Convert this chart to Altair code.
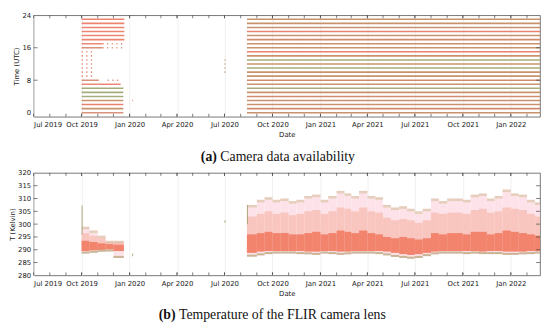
import altair as alt
import pandas as pd

# ---------------- axis ticks ----------------
major_ticks = ["2019-07-01", "2019-10-01", "2020-01-01", "2020-04-01", "2020-07-01",
               "2020-10-01", "2021-01-01", "2021-04-01", "2021-07-01", "2021-10-01",
               "2022-01-01"]
minor_ticks = [d.strftime("%Y-%m-%d") for d in pd.date_range("2019-08-01", "2022-02-01", freq="MS")]
x_start, x_end = "2019-07-01", "2022-02-26"
hour_ticks = [0, 8, 16, 24]
temp_ticks = [280, 285, 290, 295, 300, 305, 310, 315, 320]

# ---------------- (a) availability segments ----------------
seg_hour = ([0, 1, 2, 3, 4, 5, 6, 7, 8, 8, 9, 10, 11, 12, 13, 14, 15, 16, 16, 17, 17,
             18, 19, 20, 21, 22, 23, 3] +
            list(range(24)) + [10, 11, 12, 13])
seg_start = (["2019-10-01"] * 9 + ["2019-11-20"] + ["2019-10-01"] * 8 + ["2019-11-10"] +
             ["2019-10-01", "2019-11-10"] + ["2019-10-01"] * 6 + ["2020-01-06"] +
             ["2020-08-13"] * 24 + ["2020-07-01"] * 4)
seg_end = (["2019-12-20"] * 7 + ["2019-12-15", "2019-11-03", "2019-12-10"] +
           ["2019-10-22"] * 7 + ["2019-11-10", "2019-12-20", "2019-11-10", "2019-12-20"] +
           ["2019-12-22"] * 6 + ["2020-01-08"] +
           ["2022-02-26"] * 24 + ["2020-07-03"] * 4)
seg_kind = (["solid"] * 9 + ["sparse"] + ["sparse"] * 7 + ["solid", "sparse", "solid", "sparse"] +
            ["solid"] * 6 + ["solid"] + ["solid"] * 24 + ["solid"] * 4)
row_colors_2019 = ["#d9937a", "#c9936e", "#e8826e", "#c9936e", "#a3ad7c", "#a3ad7c", "#a3ad7c",
                   "#ee8874", "#d9937a", "#d9937a", "#ee8874", "#ee8874", "#ee8874", "#ee8874",
                   "#ee8874", "#ee8874", "#ee8874", "#d9937a", "#d9937a", "#ee8874", "#ee8874",
                   "#ee8470", "#ee8470", "#ee8470", "#ee8470", "#ee8470", "#ee8470", "#e8a090"]
row_colors_2020 = ["#c8926c", "#d08a6c", "#c8926c", "#c8926c", "#d08a6c", "#c8926c", "#a9ac7c",
                   "#c8926c", "#d08a6c", "#c8926c", "#c8926c", "#a9ac7c", "#c8926c", "#a9ac7c",
                   "#c8926c", "#e8806e", "#c8926c", "#c8926c", "#d08a6c", "#c8926c", "#e8806e",
                   "#c8926c", "#c8926c", "#c8926c"]
row_colors_extra = ["#c8a080"] * 4
seg_color = row_colors_2019 + row_colors_2020 + row_colors_extra

avail = pd.DataFrame({"hour": seg_hour, "start": seg_start, "end": seg_end,
                      "kind": seg_kind, "color": seg_color})

# ---------------- (b) lens temperature (semi-monthly envelopes) ----------------
bin_start = ["2019-10-01", "2019-10-16", "2019-11-01", "2019-11-16", "2019-12-01",
             "2020-08-13", "2020-09-01", "2020-09-16", "2020-10-01", "2020-10-16", "2020-11-01",
             "2020-11-16", "2020-12-01", "2020-12-16", "2021-01-01", "2021-01-16", "2021-02-01",
             "2021-02-16", "2021-03-01", "2021-03-16", "2021-04-01", "2021-04-16", "2021-05-01",
             "2021-05-16", "2021-06-01", "2021-06-16", "2021-07-01", "2021-07-16", "2021-08-01",
             "2021-08-16", "2021-09-01", "2021-09-16", "2021-10-01", "2021-10-16", "2021-11-01",
             "2021-11-16", "2021-12-01", "2021-12-16", "2022-01-01", "2022-01-16", "2022-02-01",
             "2022-02-16"]
bin_end = bin_start[1:5] + ["2019-12-21"] + bin_start[6:] + ["2022-02-26"]
t_min = [288.5, 288.8, 289.2, 289.3, 286.8,
         287.3, 287.8, 288.3, 288.5, 288.5, 288.5, 288.3, 288.2, 288.0, 288.5, 288.3, 288.0,
         288.2, 288.5, 288.5, 288.5, 288.3, 287.8, 287.2, 286.8, 286.5, 286.8, 287.5, 288.2,
         288.5, 288.5, 288.5, 288.3, 288.5, 288.3, 288.3, 288.3, 288.0, 288.0, 288.2, 288.3,
         288.5]
core_lo = [289.5, 289.8, 290.0, 290.2, 289.5,
           288.8, 289.3, 289.5, 289.5, 289.5, 289.5, 289.5, 289.3, 289.3, 289.5, 289.5, 289.3,
           289.3, 289.5, 289.5, 289.5, 289.5, 289.3, 288.8, 288.3, 288.0, 288.3, 288.8, 289.3,
           289.5, 289.5, 289.5, 289.5, 289.5, 289.3, 289.5, 289.5, 289.3, 289.3, 289.3, 289.5,
           289.5]
core_hi = [293.5, 293.0, 292.5, 292.2, 292.0,
           296.0, 296.5, 297.0, 296.5, 296.5, 296.0, 296.0, 296.5, 297.0, 296.0, 296.5, 297.5,
           297.0, 296.5, 297.5, 296.5, 296.0, 295.0, 294.5, 295.0, 294.5, 294.0, 294.5, 296.5,
           296.0, 296.5, 296.5, 296.0, 297.0, 297.0, 296.0, 296.5, 297.5, 297.0, 296.5, 296.0,
           295.5]
mid_hi = [296.5, 295.5, 294.5, 293.0, 293.0,
          303.0, 304.0, 305.0, 304.0, 304.5, 303.5, 304.0, 305.0, 305.5, 304.0, 305.0, 306.5,
          306.0, 305.0, 306.5, 305.0, 304.5, 302.5, 301.5, 302.0, 301.5, 300.5, 301.5, 304.5,
          304.0, 304.5, 304.5, 304.0, 305.5, 306.0, 304.5, 305.0, 306.5, 306.0, 305.5, 304.0,
          303.0]
t_max = [299.0, 297.5, 295.5, 293.5, 293.5,
         307.5, 309.5, 310.5, 309.5, 310.0, 309.0, 309.5, 311.0, 311.5, 309.5, 311.0, 313.0,
         312.0, 311.0, 313.0, 311.0, 310.5, 307.5, 306.5, 307.0, 306.0, 305.0, 306.0, 310.0,
         309.0, 310.0, 310.0, 309.5, 311.5, 312.0, 310.0, 311.0, 313.5, 312.0, 311.5, 309.5,
         308.5]
spike_start = ["2019-10-01", "2020-08-13", "2020-01-06", "2020-07-01"]
spike_end = ["2019-10-03", "2020-08-15", "2020-01-08", "2020-07-03"]
spike_lo = [296.0, 300.0, 287.5, 300.5]
spike_hi = [307.3, 307.5, 288.5, 301.5]

temp = pd.DataFrame({"start": bin_start, "end": bin_end, "tmin": t_min, "clo": core_lo,
                     "chi": core_hi, "mhi": mid_hi, "tmax": t_max})
temp["tmin_f"] = temp["tmin"] + 0.8
temp["tmax_f"] = temp["tmax"] - 1.0
spikes = pd.DataFrame({"start": spike_start, "end": spike_end, "lo": spike_lo, "hi": spike_hi})

# ---------------- helpers ----------------
FONT = "DejaVu Sans"
W1, H1 = 514, 103
W2, H2 = 514, 104


def ms(s):
    return int(pd.Timestamp(s, tz="UTC").timestamp() * 1000)


xscale = alt.Scale(type="utc", domain=[ms(x_start), ms(x_end)], nice=False)
XAX = alt.Axis(values=[ms(t) for t in major_ticks],
               labelExpr="utcFormat(datum.value, '%b %Y')",
               title="Date", labelPadding=4, titlePadding=3, grid=True,
               gridColor="#ececec", gridWidth=0.8, ticks=False, domain=False,
               labelOverlap=False)
yscale1 = alt.Scale(domain=[-1, 24], nice=False, zero=False)
YAX1 = alt.Axis(values=hour_ticks, title="Time (UTC)", labelPadding=3, titlePadding=2,
                ticks=False, domain=False, grid=False, labelOverlap=False)
yscale2 = alt.Scale(domain=[280, 320], nice=False, zero=False)
YAX2 = alt.Axis(values=temp_ticks, title="T (Kelvin)", labelPadding=3, titlePadding=2,
                ticks=False, domain=False, grid=False, labelOverlap=False)


def tick_layers(W, H, yfield_vals, yname, yscale, yax):
    tdf = pd.DataFrame({"d": minor_ticks + major_ticks})
    rule = dict(color="#444", strokeWidth=0.7)
    xenc = alt.X("d:T", scale=xscale, axis=XAX)
    bottom = alt.Chart(tdf).mark_rule(**rule).encode(
        x=xenc, y=alt.value(H), y2=alt.value(H - 3))
    top = alt.Chart(tdf).mark_rule(**rule).encode(
        x=xenc, y=alt.value(0), y2=alt.value(3))
    ydf = pd.DataFrame({yname: yfield_vals})
    yenc = alt.Y(f"{yname}:Q", scale=yscale, axis=yax)
    left = alt.Chart(ydf).mark_rule(**rule).encode(
        y=yenc, x=alt.value(0), x2=alt.value(4))
    right = alt.Chart(ydf).mark_rule(**rule).encode(
        y=yenc, x=alt.value(W - 4), x2=alt.value(W))
    return [bottom, top, left, right]


def caption(H, y_off, label, text, split_x):
    a = alt.Chart(pd.DataFrame({"t": [label]})).mark_text(
        font="Liberation Serif", fontSize=14, fontWeight="bold", align="right",
        baseline="middle", color="#111").encode(
        text="t:N", x=alt.value(split_x), y=alt.value(H + y_off))
    b = alt.Chart(pd.DataFrame({"t": [text]})).mark_text(
        font="Liberation Serif", fontSize=14, align="left", baseline="middle",
        color="#111").encode(
        text="t:N", x=alt.value(split_x + 3.5), y=alt.value(H + y_off))
    return [a, b]


# ---------------- panel (a) ----------------
rows = alt.Chart(avail).mark_rule(strokeWidth=1.6).encode(
    x=alt.X("start:T", scale=xscale, axis=XAX),
    x2="end:T",
    y=alt.Y("hour:Q", scale=yscale1, axis=YAX1),
    color=alt.Color("color:N", scale=None),
    strokeDash=alt.StrokeDash("kind:N", scale=alt.Scale(domain=["solid", "sparse"],
                                                        range=[[1, 0], [1.2, 3.5]]),
                              legend=None),
)
panel_a = alt.layer(rows, *tick_layers(W1, H1, [8, 16], "hour", yscale1, YAX1),
                    *caption(H1, 41, "(a)", "Camera data availability", 186)
                    ).properties(width=W1, height=H1)


# ---------------- panel (b) ----------------
def band(df, lo, hi, color, opacity=1.0):
    return alt.Chart(df).mark_rect(color=color, opacity=opacity).encode(
        x=alt.X("start:T", scale=xscale, axis=XAX), x2="end:T",
        y=alt.Y(f"{lo}:Q", scale=yscale2, axis=YAX2), y2=f"{hi}:Q")


env = band(temp, "tmin", "tmax", "#fde3e9")
mid = band(temp, "clo", "mhi", "#f8c2ba", 0.9)
core = band(temp, "clo", "chi", "#f07a61", 0.88)
olive_top = band(temp, "tmax_f", "tmax", "#c4ae7a", 0.4)
olive_bot = band(temp, "tmin", "tmin_f", "#a89660", 0.6)
spk = band(spikes, "lo", "hi", "#a5a070", 0.85)

panel_b = alt.layer(env, mid, core, olive_top, olive_bot, spk,
                    *tick_layers(W2, H2, temp_ticks[1:-1], "tv", yscale2, YAX2),
                    *caption(H2, 40, "(b)", "Temperature of the FLIR camera lens", 144)
                    ).properties(width=W2, height=H2)

chart = alt.vconcat(panel_a, panel_b, spacing=3).properties(
    padding={"left": 0, "top": 0, "right": 0, "bottom": 0}
).configure_view(stroke="#555", strokeWidth=0.8).configure_axis(
    labelFont=FONT, titleFont=FONT, labelFontSize=7, titleFontSize=7,
    titleFontWeight="normal", labelColor="#222", titleColor="#222"
)

chart.save("out.html", embed_options={"renderer": "svg", "actions": False})
